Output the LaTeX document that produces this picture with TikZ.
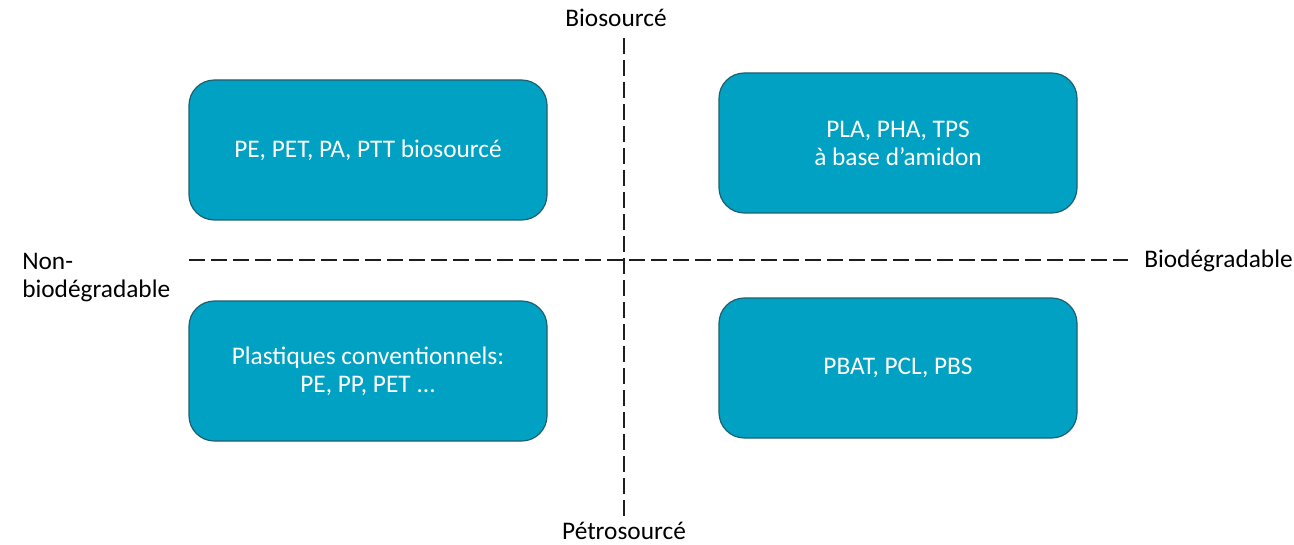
\documentclass[tikz,border=0pt]{standalone}
\usepackage{fontspec}
\setmainfont{Carlito}
\definecolor{boxfill}{RGB}{0,161,194}
\definecolor{boxline}{RGB}{30,95,112}
\definecolor{axis}{RGB}{30,30,30}
\begin{document}
\begin{tikzpicture}[x=0.75pt,y=-0.75pt,
  quad/.style={draw=boxline, line width=0.9pt, fill=boxfill, rounded corners=19pt,
    minimum width=268.5pt, minimum height=105pt, text=white, align=center,
    font=\fontsize{19}{21}\selectfont, inner sep=0pt},
  axisline/.style={draw=axis, line width=1.4pt, dash pattern=on 12pt off 4.5pt},
  lbl/.style={text=black, font=\fontsize{19}{21}\selectfont, inner sep=0pt}]
\useasboundingbox[fill=white] (0,0) rectangle (1294,545);
\coordinate (vtop) at (624,38);
\coordinate (vbot) at (624,520);
\coordinate (hleft) at (189,260);
\coordinate (hright) at (1128,260);
\draw[axisline] (vtop) -- (vbot);
\draw[axisline] (hleft) -- (hright);
\node[quad] (tl) at (368,150) {PE, PET, PA, PTT biosourcé};
\node[quad] (tr) at (898,143) {PLA, PHA, TPS\\à base d’amidon};
\node[quad] (bl) at (368,371) {Plastiques conventionnels:\\PE, PP, PET ...};
\node[quad] (br) at (898,368) {PBAT, PCL, PBS};
\node[lbl] (bio) at (616,18) {Biosourcé};
\node[lbl] (petro) at (624,531) {Pétrosourcé};
\node[lbl, anchor=west] (biodeg) at (1144,261) {Biodégradable};
\node[lbl, anchor=west, align=left] (nonbio) at (22,278) {Non-\\biodégradable};
\end{tikzpicture}
\end{document}
